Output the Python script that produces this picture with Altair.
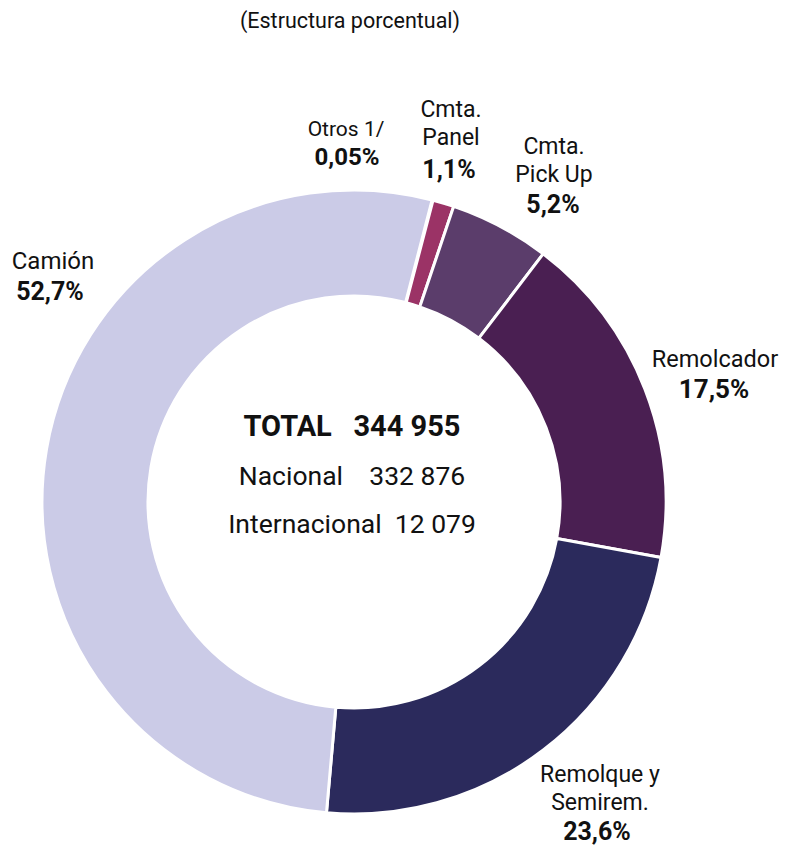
import math
import altair as alt
import pandas as pd

NB = "\u00a0"

categories = ["Otros 1/", "Cmta. Panel", "Cmta. Pick Up", "Remolcador", "Remolque y Semirem.", "Camión"]
shares = [0.05, 1.1, 5.2, 17.5, 23.6, 52.7]
name_lines = ["Otros 1/", "Cmta.\nPanel", "Cmta.\nPick Up", "Remolcador", "Remolque y\nSemirem.", "Camión"]
pct_labels = ["0,05%", "1,1%", "5,2%", "17,5%", "23,6%", "52,7%"]
colors = ["#7a2a5a", "#9b3366", "#5b3d6b", "#4a1f52", "#2b2a5c", "#cbcbe7"]

center_lines = ["TOTAL" + NB * 3 + "344 955", "Nacional" + NB * 4 + "332 876", "Internacional" + NB * 2 + "12 079"]
title_text = "(Estructura porcentual)"

# layout (chart pixel coordinates; image = chart + 8)
CX, CY = 346, 494
name_xy = [(338, 122), (443, 102), (546, 139), (707, 352), (592, 767), (45, 254)]
name_fs = [21, 23, 23, 23.5, 23, 24]
pct_xy = [(339, 150), (441, 162), (545, 197), (706, 382), (589, 824), (42, 284)]
pct_fs = [24, 25, 25, 26, 25, 25]
center_y = [419, 469, 517]

df = pd.DataFrame({
    "cat": categories,
    "share": shares,
    "order": list(range(len(categories))),
    "name": name_lines,
    "pct": pct_labels,
    "nx": [p[0] for p in name_xy],
    "ny": [p[1] for p in name_xy],
    "nfs": name_fs,
    "px": [p[0] for p in pct_xy],
    "py": [p[1] for p in pct_xy],
    "pfs": pct_fs,
})

offset = math.radians(14.5)
arcs = alt.Chart(df).mark_arc(innerRadius=206, outerRadius=312, stroke="white", strokeWidth=3).encode(
    theta=alt.Theta("share:Q", stack=True, scale=alt.Scale(range=[offset, offset + 2 * math.pi])),
    color=alt.Color("cat:N", scale=alt.Scale(domain=categories, range=colors), legend=None),
    order=alt.Order("order:Q"),
    x=alt.value(CX),
    y=alt.value(CY),
)

names = alt.Chart(df).mark_text(font="Roboto", color="#111111", lineBreak="\n",
                                lineHeight=28, baseline="middle", align="center").encode(
    x=alt.X("nx:Q", scale=None), y=alt.Y("ny:Q", scale=None), text="name:N",
    size=alt.Size("nfs:Q", scale=None, legend=None))

pcts = alt.Chart(df).mark_text(font="Roboto", fontWeight="bold", color="#111111",
                               baseline="middle", align="center").encode(
    x=alt.X("px:Q", scale=None), y=alt.Y("py:Q", scale=None), text="pct:N",
    size=alt.Size("pfs:Q", scale=None, legend=None))

cdf = pd.DataFrame({"t": center_lines, "y": center_y})
center_bold = alt.Chart(cdf.iloc[[0]]).mark_text(font="Roboto", fontSize=29, fontWeight="bold",
                                                  color="#111111", baseline="middle").encode(
    x=alt.value(CX - 2), y=alt.Y("y:Q", scale=None), text="t:N")
center_norm = alt.Chart(cdf.iloc[1:]).mark_text(font="Roboto", fontSize=26.5, color="#111111",
                                                 baseline="middle").encode(
    x=alt.value(CX - 2), y=alt.Y("y:Q", scale=None), text="t:N")

title = alt.Chart(pd.DataFrame({"t": [title_text]})).mark_text(font="Roboto", fontSize=21.5,
                                                               color="#111111", baseline="middle").encode(
    x=alt.value(342), y=alt.value(14), text="t:N")

chart = alt.layer(arcs, names, pcts, center_bold, center_norm, title).properties(
    width=771, height=837, padding=0, autosize=alt.AutoSizeParams(type="none")
).configure_view(stroke=None)

chart.save("out.html", embed_options={"renderer": "svg", "actions": False})
